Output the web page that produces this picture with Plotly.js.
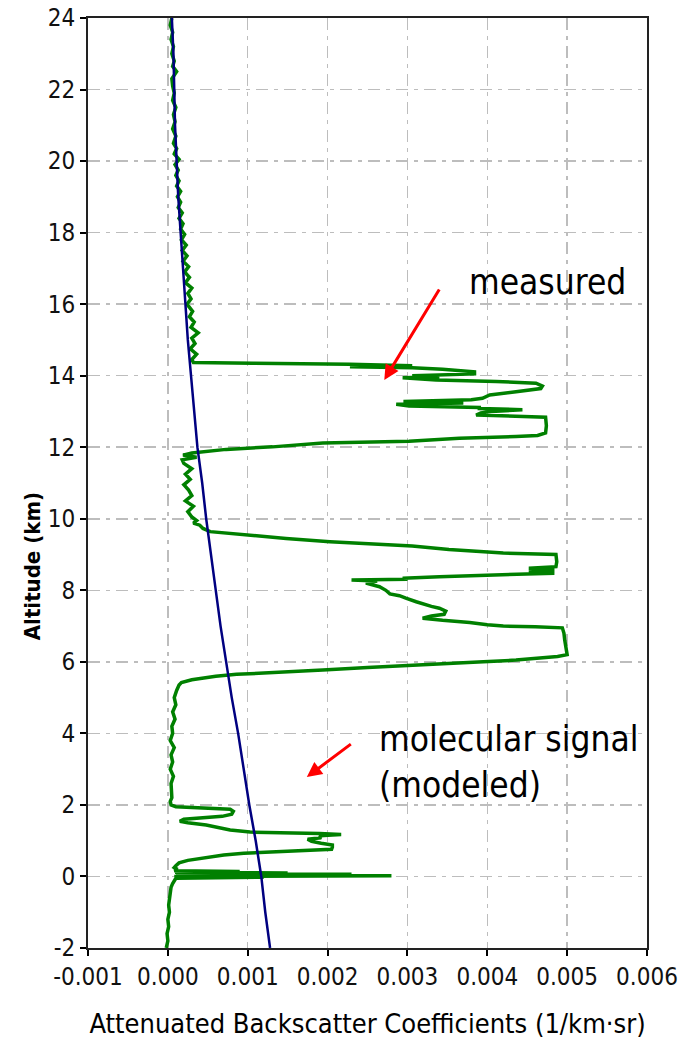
<!DOCTYPE html>
<html>
<head>
<meta charset="utf-8">
<script src="https://cdn.plot.ly/plotly-3.0.1.min.js"></script>
<style>
  html, body { margin: 0; padding: 0; background: #fff; }
  #chart { width: 688px; height: 1047px; }
</style>
</head>
<body>
<div id="chart"></div>
<script>
// Molecular (modeled) signal: altitude (km) and attenuated backscatter (1/km·sr)
const altModeled = [-2, -1, 0, 1, 2, 3, 4, 5, 6, 7, 8, 9, 10, 11, 12, 13, 14, 15, 16, 17, 18, 19, 20, 21, 22, 23, 24];
const betaModeled = [0.00128, 0.00122, 0.00117, 0.00110, 0.00102, 0.00095, 0.00088, 0.00080, 0.00073, 0.00066,
  0.00060, 0.00054, 0.00048, 0.00043, 0.00037, 0.00033, 0.00029, 0.00025, 0.00022, 0.00019,
  0.00016, 0.00013, 0.00011, 0.00009, 0.00008, 0.00007, 0.00005];

// Measured signal
const altMeasured = [
  -2.00, -1.80, -1.60, -1.40, -1.20, -1.00, -0.80, -0.60, -0.45, -0.30, -0.20, -0.10, -0.05, -0.02,
  0.00, 0.02, 0.04, 0.06, 0.08, 0.10, 0.12, 0.14, 0.16, 0.20, 0.25, 0.30, 0.38, 0.45, 0.50, 0.55,
  0.60, 0.65, 0.68, 0.72, 0.76, 0.82, 0.88, 0.93, 0.98, 1.04, 1.08, 1.14, 1.17, 1.20, 1.24, 1.30,
  1.38, 1.44, 1.50, 1.54, 1.60, 1.64, 1.68, 1.74, 1.82, 1.88, 1.92, 1.95, 2.00, 2.10, 2.20, 2.40,
  2.60, 2.80, 3.00, 3.20, 3.40, 3.60, 3.80, 4.00, 4.20, 4.40, 4.60, 4.80, 5.00, 5.20, 5.35, 5.42,
  5.50, 5.55, 5.60, 5.65, 5.70, 5.77, 5.84, 5.89, 5.94, 6.00, 6.05, 6.10, 6.15, 6.20, 6.40, 6.60,
  6.80, 6.95, 6.98, 7.00, 7.04, 7.10, 7.16, 7.22, 7.28, 7.33, 7.42, 7.50, 7.55, 7.60, 7.68, 7.78,
  7.85, 7.90, 8.00, 8.10, 8.20, 8.26, 8.29, 8.31, 8.34, 8.38, 8.42, 8.45, 8.48, 8.53, 8.57, 8.62,
  8.66, 8.80, 9.00, 9.04, 9.08, 9.14, 9.24, 9.29, 9.36, 9.45, 9.55, 9.64, 9.73, 9.82, 9.88, 9.95,
  10.05, 10.20, 10.35, 10.50, 10.65, 10.80, 10.95, 11.10, 11.25, 11.40, 11.55, 11.65, 11.72, 11.78,
  11.84, 11.88, 11.94, 12.01, 12.08, 12.12, 12.17, 12.25, 12.30, 12.33, 12.40, 12.60, 12.84, 12.87,
  12.90, 12.96, 13.00, 13.05, 13.08, 13.11, 13.15, 13.20, 13.24, 13.28, 13.33, 13.37, 13.46, 13.55,
  13.64, 13.71, 13.79, 13.84, 13.88, 13.94, 13.97, 14.00, 14.05, 14.11, 14.18, 14.22, 14.25, 14.28,
  14.32, 14.35, 14.37, 14.45, 14.60, 14.75, 14.90, 15.05, 15.20, 15.35, 15.50, 15.65, 15.80, 16.00,
  16.15, 16.30, 16.45, 16.60, 16.75, 16.90, 17.05, 17.20, 17.35, 17.50, 17.65, 17.80, 17.95, 18.10,
  18.25, 18.40, 18.55, 18.70, 18.85, 19.00, 19.15, 19.30, 19.45, 19.60, 19.75, 19.90, 20.05, 20.20,
  20.35, 20.50, 20.70, 20.90, 21.10, 21.30, 21.50, 21.70, 21.90, 22.10, 22.30, 22.50, 22.65, 22.80,
  23.00, 23.20, 23.40, 23.60, 23.80, 24.00
];
const betaMeasured = [
  -0.00002, 0.00000, -0.00001, 0.00001, 0.00000, 0.00002, 0.00001, 0.00002, 0.00003, 0.00004, 0.00006, 0.00008, 0.00010, 0.00120,
  0.00008, 0.00280, 0.00012, 0.00230, 0.00010, 0.00150, 0.00009, 0.00090, 0.00008, 0.00012, 0.00008, 0.00010, 0.00014, 0.00025, 0.00038, 0.00055,
  0.00070, 0.00095, 0.00130, 0.00175, 0.00205, 0.00206, 0.00206, 0.00192, 0.00180, 0.00175, 0.00192, 0.00190, 0.00217, 0.00190, 0.00103, 0.00078,
  0.00062, 0.00048, 0.00025, 0.00015, 0.00020, 0.00048, 0.00068, 0.00080, 0.00082, 0.00078, 0.00030, 0.00010, 0.00004, 0.00003, 0.00005, 0.00005,
  0.00004, 0.00007, 0.00003, 0.00006, 0.00004, 0.00008, 0.00003, 0.00006, 0.00005, 0.00009, 0.00006, 0.00010, 0.00008, 0.00011, 0.00014, 0.00017,
  0.00030, 0.00045, 0.00060, 0.00086, 0.00136, 0.00194, 0.00250, 0.00300, 0.00352, 0.00395, 0.00436, 0.00465, 0.00488, 0.00500, 0.00498, 0.00497,
  0.00496, 0.00494, 0.00460, 0.00420, 0.00400, 0.00378, 0.00344, 0.00319, 0.00330, 0.00346, 0.00348, 0.00340, 0.00330, 0.00322, 0.00311, 0.00298,
  0.00290, 0.00278, 0.00273, 0.00265, 0.00248, 0.00262, 0.00230, 0.00300, 0.00294, 0.00340, 0.00400, 0.00456, 0.00484, 0.00452, 0.00484, 0.00452,
  0.00486, 0.00487, 0.00486, 0.00420, 0.00394, 0.00352, 0.00306, 0.00257, 0.00203, 0.00148, 0.00094, 0.00053, 0.00044, 0.00040, 0.00032, 0.00036,
  0.00030, 0.00025, 0.00032, 0.00022, 0.00030, 0.00026, 0.00020, 0.00028, 0.00022, 0.00030, 0.00020, 0.00018, 0.00036, 0.00019,
  0.00030, 0.00048, 0.00073, 0.00131, 0.00170, 0.00194, 0.00302, 0.00365, 0.00436, 0.00463, 0.00473, 0.00474, 0.00473, 0.00431,
  0.00386, 0.00392, 0.00405, 0.00444, 0.00390, 0.00390, 0.00302, 0.00286, 0.00370, 0.00295, 0.00380, 0.00394, 0.00403, 0.00436,
  0.00467, 0.00469, 0.00461, 0.00411, 0.00336, 0.00294, 0.00340, 0.00306, 0.00384, 0.00384, 0.00344, 0.00306, 0.00228, 0.00306,
  0.00228, 0.00107, 0.00032, 0.00030, 0.00036, 0.00028, 0.00034, 0.00030, 0.00038, 0.00029, 0.00033, 0.00027, 0.00031, 0.00024,
  0.00029, 0.00025, 0.00030, 0.00022, 0.00027, 0.00021, 0.00026, 0.00019, 0.00024, 0.00018, 0.00023, 0.00017, 0.00021, 0.00016,
  0.00019, 0.00014, 0.00018, 0.00013, 0.00016, 0.00012, 0.00016, 0.00011, 0.00014, 0.00010, 0.00013, 0.00009, 0.00014, 0.00008,
  0.00011, 0.00007, 0.00010, 0.00006, 0.00009, 0.00007, 0.00010, 0.00006, 0.00008, 0.00006, 0.00005, 0.00011, 0.00006, 0.00008,
  0.00005, 0.00007, 0.00004, 0.00006, 0.00003, 0.00005
];

// Tick labels
const xTickVals = [-0.001, 0.000, 0.001, 0.002, 0.003, 0.004, 0.005, 0.006];
const xTickText = ["-0.001", "0.000", "0.001", "0.002", "0.003", "0.004", "0.005", "0.006"];
const yTickVals = [-2, 0, 2, 4, 6, 8, 10, 12, 14, 16, 18, 20, 22, 24];
const yTickText = ["-2", "0", "2", "4", "6", "8", "10", "12", "14", "16", "18", "20", "22", "24"];

// Texts
const xTitle = "Attenuated Backscatter Coefficients (1/km·sr)";
const yTitle = "Altitude (km)";
const labelMeasured = "measured";
const labelModeled = "molecular signal<br>(modeled)";

const tickFont = { family: "Liberation Sans Narrow, DejaVu Sans Condensed, Arial Narrow, sans-serif", size: 24, color: "#111" };
const textFont = "DejaVu Sans Condensed, DejaVu Sans, Tahoma, sans-serif";
const gridDash = "12px,6px,4px,6px";

const traces = [
  {
    x: betaMeasured, y: altMeasured, type: "scatter", mode: "lines",
    line: { color: "#008000", width: 3.5 }, name: "measured", hoverinfo: "x+y"
  },
  {
    x: betaModeled, y: altModeled, type: "scatter", mode: "lines",
    line: { color: "#000080", width: 2.5 }, name: "molecular signal (modeled)", hoverinfo: "x+y"
  }
];

const layout = {
  width: 688, height: 1047,
  margin: { l: 88, r: 41, t: 18, b: 99 },
  paper_bgcolor: "#ffffff", plot_bgcolor: "#ffffff",
  showlegend: false,
  xaxis: {
    range: [-0.001, 0.006],
    tickvals: xTickVals, ticktext: xTickText,
    ticks: "outside", ticklen: 6, tickwidth: 2, tickcolor: "#000",
    showline: true, linecolor: "#222", linewidth: 2, mirror: true,
    showgrid: true, gridcolor: "#bdbdbd", gridwidth: 1.5, griddash: gridDash,
    zeroline: false,
    tickfont: tickFont,
    title: { text: xTitle, font: { family: textFont, size: 27, color: "#000" }, standoff: 24 }
  },
  yaxis: {
    range: [-2, 24],
    tickvals: yTickVals, ticktext: yTickText,
    ticks: "outside", ticklen: 6, tickwidth: 2, tickcolor: "#000",
    showline: true, linecolor: "#222", linewidth: 2, mirror: true,
    showgrid: true, gridcolor: "#bdbdbd", gridwidth: 1.5, griddash: gridDash,
    zeroline: false,
    tickfont: tickFont
  },
  annotations: [
    {
      xref: "paper", yref: "y", x: -0.098, y: 8.68, text: yTitle, textangle: -90,
      showarrow: false, xanchor: "center", yanchor: "middle",
      font: { family: "DejaVu Sans Condensed, DejaVu Sans, sans-serif", size: 22, color: "#000", weight: "bold" }
    },
    {
      xref: "x", yref: "y", x: 0.00375, y: 16.62, text: labelMeasured, showarrow: false,
      xanchor: "left", yanchor: "middle",
      font: { family: textFont, size: 35, color: "#000" }
    },
    {
      xref: "x", yref: "y", x: 0.00271, y: 13.88, ax: 0.00341, ay: 16.45, axref: "x", ayref: "y",
      text: "", showarrow: true, arrowhead: 2, arrowsize: 1, arrowwidth: 3, arrowcolor: "#ff0000"
    },
    {
      xref: "x", yref: "y", x: 0.00262, y: 3.2, text: labelModeled, showarrow: false,
      xanchor: "left", yanchor: "middle", align: "left",
      font: { family: textFont, size: 35, color: "#000" }
    },
    {
      xref: "x", yref: "y", x: 0.00174, y: 2.78, ax: 0.00231, ay: 3.73, axref: "x", ayref: "y",
      text: "", showarrow: true, arrowhead: 2, arrowsize: 1, arrowwidth: 3, arrowcolor: "#ff0000"
    }
  ]
};

Plotly.newPlot("chart", traces, layout, { displayModeBar: false, staticPlot: true });
</script>
</body>
</html>
